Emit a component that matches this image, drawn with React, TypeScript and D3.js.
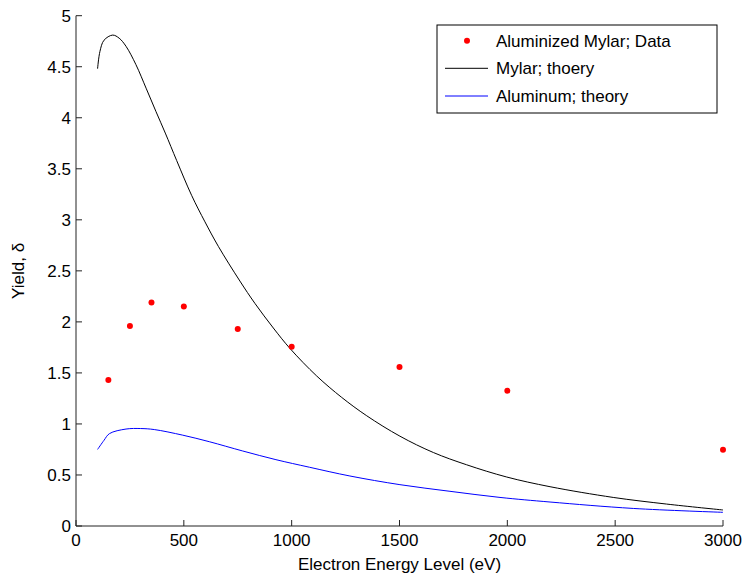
import React from "react";
import * as d3 from "d3";

const dataE = [150, 250, 350, 500, 750, 1000, 1500, 2000, 3000];
const dataY = [1.43, 1.96, 2.19, 2.15, 1.93, 1.757, 1.558, 1.326, 0.748];

const mylarE = [100, 111, 130, 170, 200, 232, 278, 325, 371, 414, 467, 536, 598, 660, 760, 830, 915, 992, 1116, 1232, 1348, 1502, 1657, 1811, 1997, 2198, 2491, 2738, 3000];
const mylarY = [4.48, 4.65, 4.76, 4.81, 4.78, 4.70, 4.52, 4.29, 4.06, 3.85, 3.58, 3.24, 2.98, 2.74, 2.40, 2.18, 1.94, 1.74, 1.47, 1.26, 1.08, 0.88, 0.72, 0.60, 0.48, 0.385, 0.28, 0.215, 0.157];

const alE = [100, 130, 155, 232, 300, 363, 495, 618, 773, 927, 1082, 1270, 1502, 1734, 1966, 2198, 2584, 3000];
const alY = [0.75, 0.84, 0.905, 0.95, 0.955, 0.945, 0.89, 0.826, 0.735, 0.65, 0.576, 0.49, 0.405, 0.34, 0.28, 0.235, 0.172, 0.134];

const xTicks = [0, 500, 1000, 1500, 2000, 2500, 3000];
const yTicks = [0, 0.5, 1, 1.5, 2, 2.5, 3, 3.5, 4, 4.5, 5];
const legendLabels = ["Aluminized Mylar; Data", "Mylar; thoery", "Aluminum; theory"];

export default function App() {
  const W = 748, H = 577;
  const x = d3.scaleLinear().domain([0, 3000]).range([76, 723]);
  const y = d3.scaleLinear().domain([0, 5]).range([526, 15.7]);
  const font = "'Liberation Sans', Arial, Helvetica, sans-serif";
  const line = d3.line<[number, number]>().x(d => x(d[0])).y(d => y(d[1])).curve(d3.curveCatmullRom.alpha(0.5));
  const mylar = line(mylarE.map((e, i) => [e, mylarY[i]]) as [number, number][]) || "";
  const al = line(alE.map((e, i) => [e, alY[i]]) as [number, number][]) || "";
  const x0 = x(0), y0 = y(0);
  return (
    <svg width={W} height={H} style={{ position: "absolute", left: 0, top: 0, background: "#fff" }} fontFamily={font}>
      <rect width={W} height={H} fill="#fff" />
      <path d={mylar} fill="none" stroke="#000" strokeWidth={1} />
      <path d={al} fill="none" stroke="#0000ff" strokeWidth={1} />
      {dataE.map((e, i) => (
        <circle key={i} cx={x(e)} cy={y(dataY[i])} r={3} fill="#ff0000" />
      ))}
      <line x1={x0} x2={x0} y1={y(5)} y2={y0} stroke="#222" strokeWidth={1} />
      <line x1={x0} x2={x(3000)} y1={y0} y2={y0} stroke="#222" strokeWidth={1} />
      {yTicks.map(t => (
        <g key={"y" + t}>
          <line x1={x0} x2={x0 + 6} y1={y(t)} y2={y(t)} stroke="#222" />
          <text x={x0 - 5} y={y(t)} dy="0.35em" textAnchor="end" fontSize={17} fill="#000">{t}</text>
        </g>
      ))}
      {xTicks.map(t => (
        <g key={"x" + t}>
          <line x1={x(t)} x2={x(t)} y1={y0} y2={y0 - 6} stroke="#222" />
          <text x={x(t)} y={y0 + 20} textAnchor="middle" fontSize={17} fill="#000">{t}</text>
        </g>
      ))}
      <text x={(x(0) + x(3000)) / 2} y={570} textAnchor="middle" fontSize={17} fill="#000">Electron Energy Level (eV)</text>
      <text transform={`translate(24,${(y(0) + y(5)) / 2}) rotate(-90)`} textAnchor="middle" fontSize={17} fill="#000">Yield, δ</text>
      <rect x={437} y={25} width={280} height={88} fill="#fff" stroke="#000" strokeWidth={1} />
      <circle cx={467} cy={40.7} r={3} fill="#ff0000" />
      <line x1={445} x2={488} y1={68.3} y2={68.3} stroke="#000" />
      <line x1={445} x2={488} y1={96} y2={96} stroke="#0000ff" />
      {legendLabels.map((l, i) => (
        <text key={l} x={496} y={[40.7, 68.3, 96][i]} dy="0.35em" fontSize={17} fill="#000">{l}</text>
      ))}
    </svg>
  );
}
